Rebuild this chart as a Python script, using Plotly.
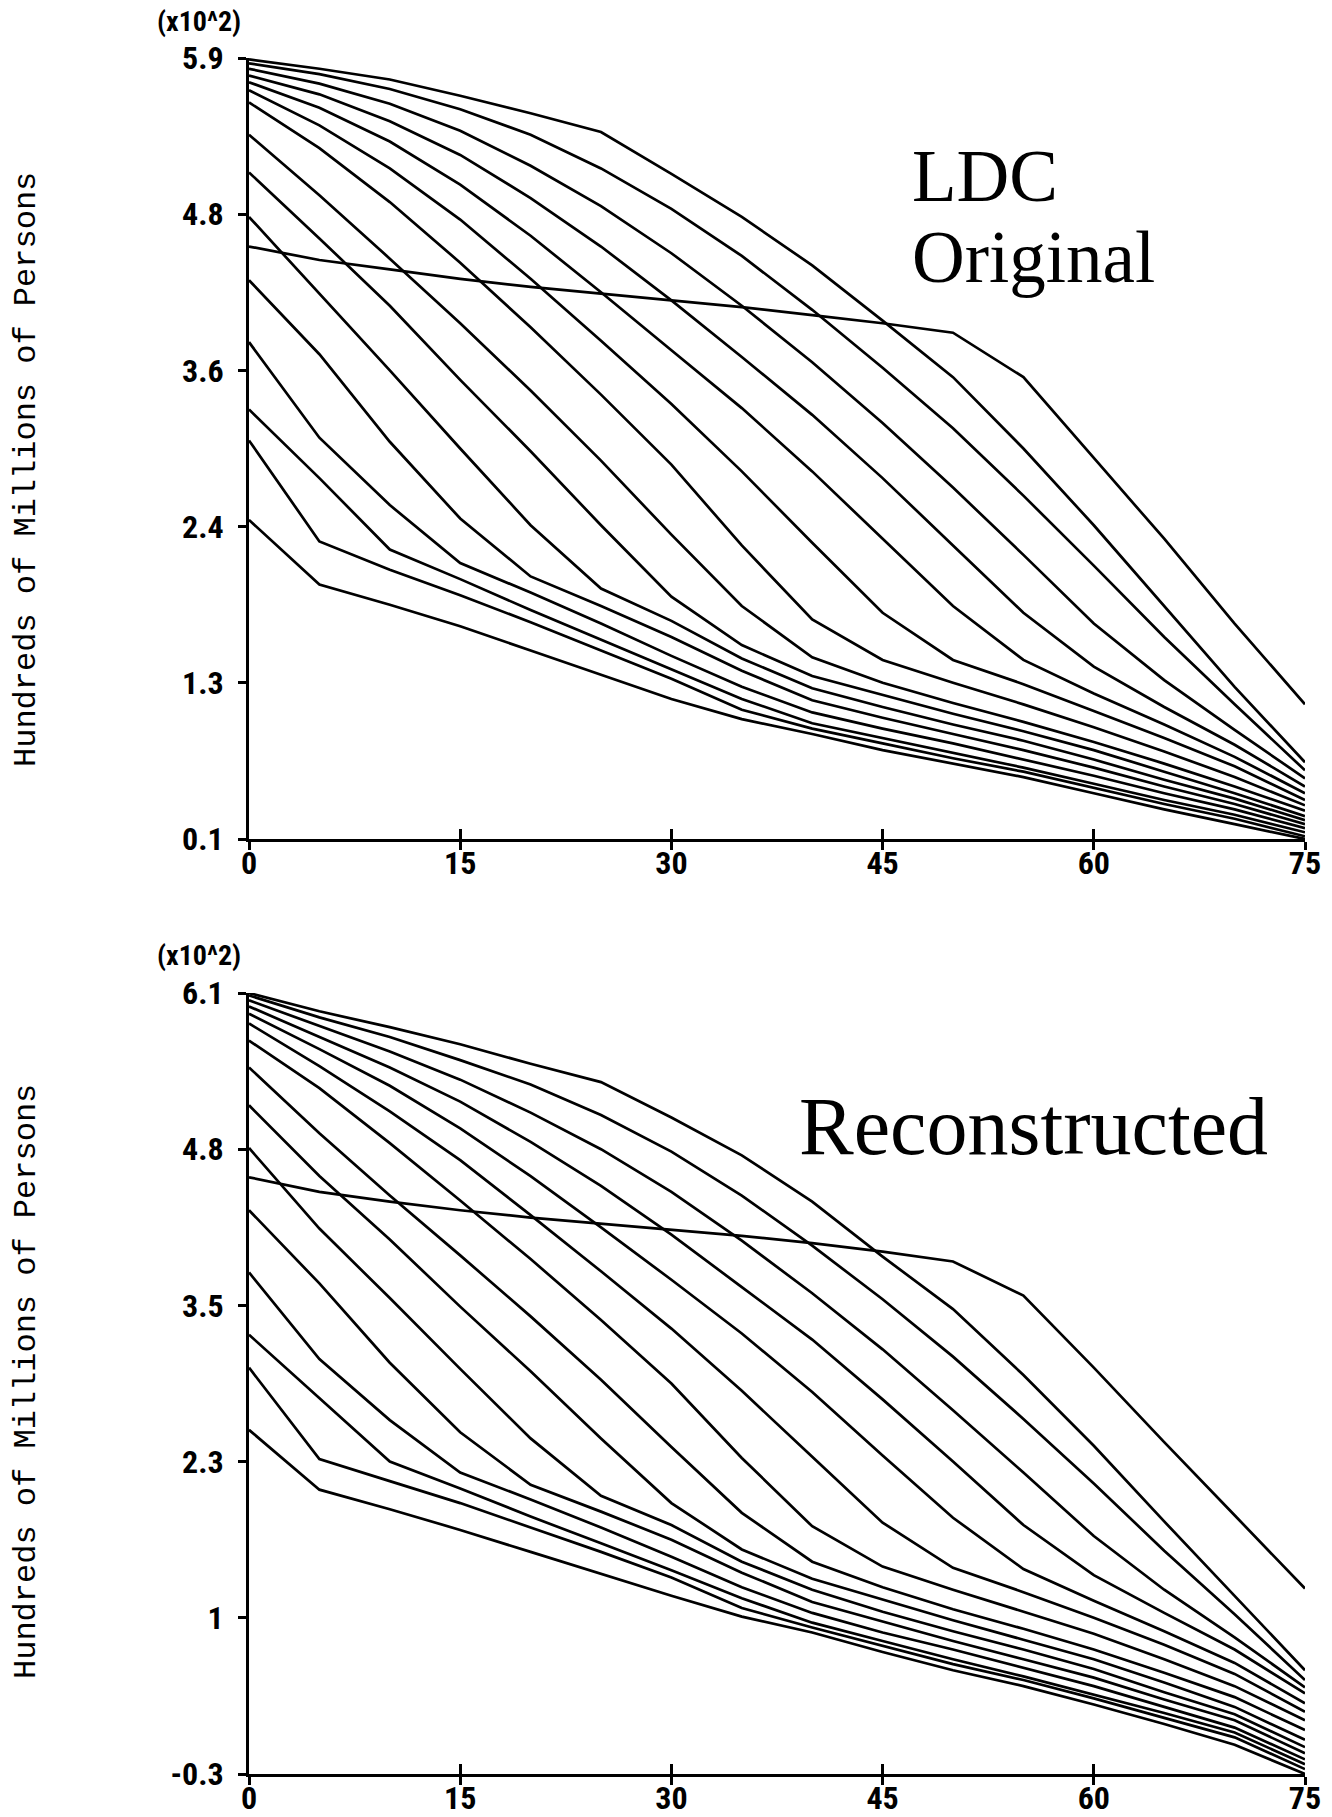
import plotly.graph_objects as go

# ---------------- data ----------------
ages = [0, 5, 10, 15, 20, 25, 30, 35, 40, 45, 50, 55, 60, 65, 70, 75]

# LDC Original (upper panel), hundreds of millions (x10^2)
orig_k00 = [2.49, 2.01, 1.86, 1.70, 1.52, 1.34, 1.16, 1.01, 0.90, 0.78, 0.68, 0.58, 0.46, 0.34, 0.23, 0.12]
orig_k01 = [3.08, 2.33, 2.12, 1.93, 1.73, 1.52, 1.31, 1.08, 0.94, 0.83, 0.72, 0.62, 0.50, 0.38, 0.27, 0.14]
orig_k02 = [3.31, 2.80, 2.27, 2.05, 1.82, 1.60, 1.38, 1.16, 0.98, 0.87, 0.76, 0.65, 0.53, 0.41, 0.30, 0.17]
orig_k03 = [3.81, 3.10, 2.60, 2.17, 1.95, 1.72, 1.48, 1.25, 1.06, 0.94, 0.83, 0.71, 0.59, 0.46, 0.34, 0.20]
orig_k04 = [4.27, 3.72, 3.07, 2.50, 2.07, 1.85, 1.62, 1.37, 1.15, 1.02, 0.90, 0.78, 0.65, 0.51, 0.38, 0.23]
orig_k05 = [4.74, 4.17, 3.60, 3.02, 2.45, 1.98, 1.74, 1.46, 1.24, 1.10, 0.97, 0.85, 0.71, 0.56, 0.42, 0.26]
orig_k06 = [5.07, 4.58, 4.08, 3.53, 3.00, 2.45, 1.92, 1.56, 1.33, 1.19, 1.05, 0.92, 0.78, 0.62, 0.46, 0.29]
orig_k07 = [5.35, 4.90, 4.43, 3.95, 3.45, 2.93, 2.38, 1.85, 1.47, 1.28, 1.13, 0.99, 0.84, 0.68, 0.51, 0.33]
orig_k08 = [5.59, 5.25, 4.85, 4.40, 3.92, 3.42, 2.90, 2.30, 1.75, 1.45, 1.28, 1.12, 0.95, 0.77, 0.58, 0.37]
orig_k09 = [5.68, 5.42, 5.10, 4.72, 4.28, 3.82, 3.35, 2.85, 2.32, 1.80, 1.45, 1.27, 1.07, 0.87, 0.66, 0.41]
orig_k10 = [5.74, 5.55, 5.30, 4.98, 4.60, 4.18, 3.75, 3.32, 2.85, 2.35, 1.85, 1.45, 1.20, 0.97, 0.73, 0.46]
orig_k11 = [5.79, 5.65, 5.45, 5.20, 4.88, 4.52, 4.12, 3.70, 3.27, 2.80, 2.30, 1.80, 1.40, 1.10, 0.82, 0.51]
orig_k12 = [5.84, 5.73, 5.58, 5.38, 5.12, 4.82, 4.47, 4.08, 3.66, 3.21, 2.73, 2.23, 1.72, 1.30, 0.93, 0.57]
orig_k13 = [5.88, 5.80, 5.69, 5.54, 5.35, 5.10, 4.80, 4.45, 4.05, 3.62, 3.17, 2.67, 2.15, 1.62, 1.12, 0.63]
orig_k14 = [5.91, 5.84, 5.76, 5.64, 5.51, 5.37, 5.06, 4.74, 4.38, 3.97, 3.55, 3.02, 2.45, 1.85, 1.25, 0.69]
orig_stat = [4.52, 4.42, 4.35, 4.28, 4.22, 4.17, 4.12, 4.07, 4.01, 3.95, 3.88, 3.55, 2.95, 2.35, 1.72, 1.12]

# Reconstructed (lower panel)
recon_k00 = [2.52, 2.03, 1.87, 1.70, 1.52, 1.34, 1.16, 0.99, 0.86, 0.70, 0.55, 0.42, 0.27, 0.11, -0.06, -0.30]
recon_k01 = [3.03, 2.28, 2.10, 1.92, 1.72, 1.52, 1.31, 1.06, 0.90, 0.75, 0.60, 0.47, 0.32, 0.16, 0.00, -0.26]
recon_k02 = [3.30, 2.78, 2.26, 2.04, 1.81, 1.59, 1.37, 1.14, 0.94, 0.79, 0.64, 0.50, 0.35, 0.20, 0.04, -0.22]
recon_k03 = [3.81, 3.10, 2.60, 2.17, 1.95, 1.72, 1.48, 1.23, 1.02, 0.86, 0.72, 0.57, 0.42, 0.25, 0.08, -0.18]
recon_k04 = [4.32, 3.72, 3.07, 2.50, 2.07, 1.85, 1.62, 1.35, 1.11, 0.95, 0.79, 0.64, 0.49, 0.31, 0.14, -0.13]
recon_k05 = [4.83, 4.17, 3.60, 3.02, 2.45, 1.98, 1.74, 1.44, 1.21, 1.03, 0.87, 0.72, 0.56, 0.37, 0.19, -0.08]
recon_k06 = [5.18, 4.60, 4.08, 3.53, 3.00, 2.45, 1.92, 1.54, 1.30, 1.13, 0.96, 0.80, 0.64, 0.45, 0.25, -0.02]
recon_k07 = [5.49, 4.95, 4.44, 3.95, 3.45, 2.93, 2.38, 1.84, 1.44, 1.23, 1.05, 0.89, 0.72, 0.53, 0.33, 0.06]
recon_k08 = [5.71, 5.32, 4.87, 4.40, 3.92, 3.42, 2.90, 2.29, 1.73, 1.40, 1.21, 1.03, 0.85, 0.64, 0.42, 0.14]
recon_k09 = [5.85, 5.50, 5.13, 4.73, 4.28, 3.82, 3.35, 2.84, 2.30, 1.76, 1.39, 1.19, 0.98, 0.76, 0.52, 0.21]
recon_k10 = [5.93, 5.64, 5.34, 4.99, 4.60, 4.18, 3.75, 3.31, 2.83, 2.31, 1.80, 1.38, 1.12, 0.87, 0.61, 0.28]
recon_k11 = [5.99, 5.74, 5.49, 5.21, 4.88, 4.52, 4.12, 3.69, 3.26, 2.77, 2.26, 1.74, 1.33, 1.02, 0.72, 0.36]
recon_k12 = [6.04, 5.83, 5.62, 5.39, 5.12, 4.82, 4.47, 4.07, 3.64, 3.18, 2.68, 2.17, 1.65, 1.21, 0.82, 0.41]
recon_k13 = [6.08, 5.90, 5.74, 5.55, 5.35, 5.10, 4.80, 4.44, 4.03, 3.59, 3.12, 2.61, 2.08, 1.53, 1.01, 0.47]
recon_k14 = [6.10, 5.95, 5.82, 5.68, 5.52, 5.37, 5.08, 4.77, 4.39, 3.94, 3.51, 2.97, 2.39, 1.77, 1.16, 0.55]
recon_stat = [4.59, 4.47, 4.39, 4.32, 4.26, 4.21, 4.16, 4.11, 4.05, 3.98, 3.90, 3.62, 3.03, 2.42, 1.82, 1.22]

x_tickvals = [0, 15, 30, 45, 60, 75]
x_ticktext = ["0", "15", "30", "45", "60", "75"]
top_tickvals = [0.12, 1.28, 2.44, 3.60, 4.76, 5.92]
top_ticktext = ["0.1", "1.3", "2.4", "3.6", "4.8", "5.9"]
bot_tickvals = [-0.30, 0.98, 2.26, 3.54, 4.82, 6.10]
bot_ticktext = ["-0.3", "1", "2.3", "3.5", "4.8", "6.1"]

orig_series = [orig_k00, orig_k01, orig_k02, orig_k03, orig_k04, orig_k05, orig_k06, orig_k07,
               orig_k08, orig_k09, orig_k10, orig_k11, orig_k12, orig_k13, orig_k14, orig_stat]
recon_series = [recon_k00, recon_k01, recon_k02, recon_k03, recon_k04, recon_k05, recon_k06, recon_k07,
                recon_k08, recon_k09, recon_k10, recon_k11, recon_k12, recon_k13, recon_k14, recon_stat]

# ---------------- figure ----------------
W, H = 1332, 1817
fig = go.Figure()

LINE = dict(color="black", width=2.7)
for s in orig_series:
    fig.add_trace(go.Scatter(x=ages, y=s, mode="lines", line=LINE, xaxis="x", yaxis="y",
                             showlegend=False, hoverinfo="skip"))
for s in recon_series:
    fig.add_trace(go.Scatter(x=ages, y=s, mode="lines", line=LINE, xaxis="x2", yaxis="y2",
                             showlegend=False, hoverinfo="skip"))
# carriers for the inner tick marks
fig.add_trace(go.Scatter(x=[None], y=[None], xaxis="x3", yaxis="y", showlegend=False, hoverinfo="skip"))
fig.add_trace(go.Scatter(x=[None], y=[None], xaxis="x4", yaxis="y2", showlegend=False, hoverinfo="skip"))

NARROW = ("Roboto Condensed, Noto Sans Condensed, DejaVu Sans Condensed, "
          "Liberation Sans Narrow, Liberation Sans, Arial, sans-serif")
TICKFONT = dict(family=NARROW, size=32, color="black", weight="bold")
xdom = [249 / W, 1305 / W]
ydom_top = [1 - 839 / H, 1 - 58 / H]
ydom_bot = [1 - 1774 / H, 1 - 993 / H]


def xax(anchor):
    return dict(domain=xdom, range=[0, 75], anchor=anchor, showline=True, linecolor="black",
                linewidth=3, ticks="outside", ticklen=8, tickwidth=3, tickcolor="black",
                tickvals=x_tickvals, ticktext=x_ticktext, tickfont=TICKFONT, showgrid=False,
                zeroline=False, fixedrange=True, ticklabelstandoff=-14, automargin=False)


def xin(over, anchor):
    return dict(domain=xdom, range=[0, 75], overlaying=over, anchor=anchor, showline=False,
                ticks="inside", ticklen=10, tickwidth=3, tickcolor="black", tickvals=x_tickvals,
                showticklabels=False, showgrid=False, zeroline=False, fixedrange=True,
                automargin=False)


def yax(dom, rng, tv, tt, anchor):
    return dict(domain=dom, range=rng, anchor=anchor, showline=True, linecolor="black",
                linewidth=3, ticks="outside", ticklen=8, tickwidth=3, tickcolor="black",
                tickvals=tv, ticktext=tt, tickfont=TICKFONT, showgrid=False, zeroline=False,
                fixedrange=True, ticklabelstandoff=8, automargin=False)


fig.update_layout(
    width=W, height=H, autosize=False,
    margin=dict(l=0, r=0, t=0, b=0, pad=0),
    paper_bgcolor="white", plot_bgcolor="white",
    xaxis=xax("y"), xaxis2=xax("y2"),
    xaxis3=xin("x", "y"), xaxis4=xin("x2", "y2"),
    yaxis=yax(ydom_top, [0.12, 5.92], top_tickvals, top_ticktext, "x"),
    yaxis2=yax(ydom_bot, [-0.30, 6.10], bot_tickvals, bot_ticktext, "x2"),
)

MONO = dict(family="Liberation Mono, Courier New, monospace", size=32, color="black")
SERIF_TOP = dict(family="Liberation Serif, Times New Roman, serif", size=73, color="black")
SERIF_BOT = dict(family="Liberation Serif, Times New Roman, serif", size=82, color="black")
SMALL = dict(family=NARROW, size=28, color="black", weight="bold")

ann = [
    dict(text="Hundreds of Millions of Persons", x=26 / W, y=1 - 470 / H, textangle=-90, font=MONO),
    dict(text="Hundreds of Millions of Persons", x=26 / W, y=1 - 1382 / H, textangle=-90, font=MONO),
    dict(text="(x10^2)", x=199 / W, y=1 - 21 / H, font=SMALL),
    dict(text="(x10^2)", x=199 / W, y=1 - 955 / H, font=SMALL),
    dict(text="LDC", x=910 / W, y=1 - 176 / H, xanchor="left", font=SERIF_TOP),
    dict(text="Original", x=910 / W, y=1 - 257 / H, xanchor="left", font=SERIF_TOP),
    dict(text="Reconstructed", x=797 / W, y=1 - 1126 / H, xanchor="left", font=SERIF_BOT),
]
for a in ann:
    a.update(xref="paper", yref="paper", showarrow=False)
    a.setdefault("xanchor", "center")
    a.setdefault("yanchor", "middle")
fig.update_layout(annotations=ann)

fig.write_html("out.html")
